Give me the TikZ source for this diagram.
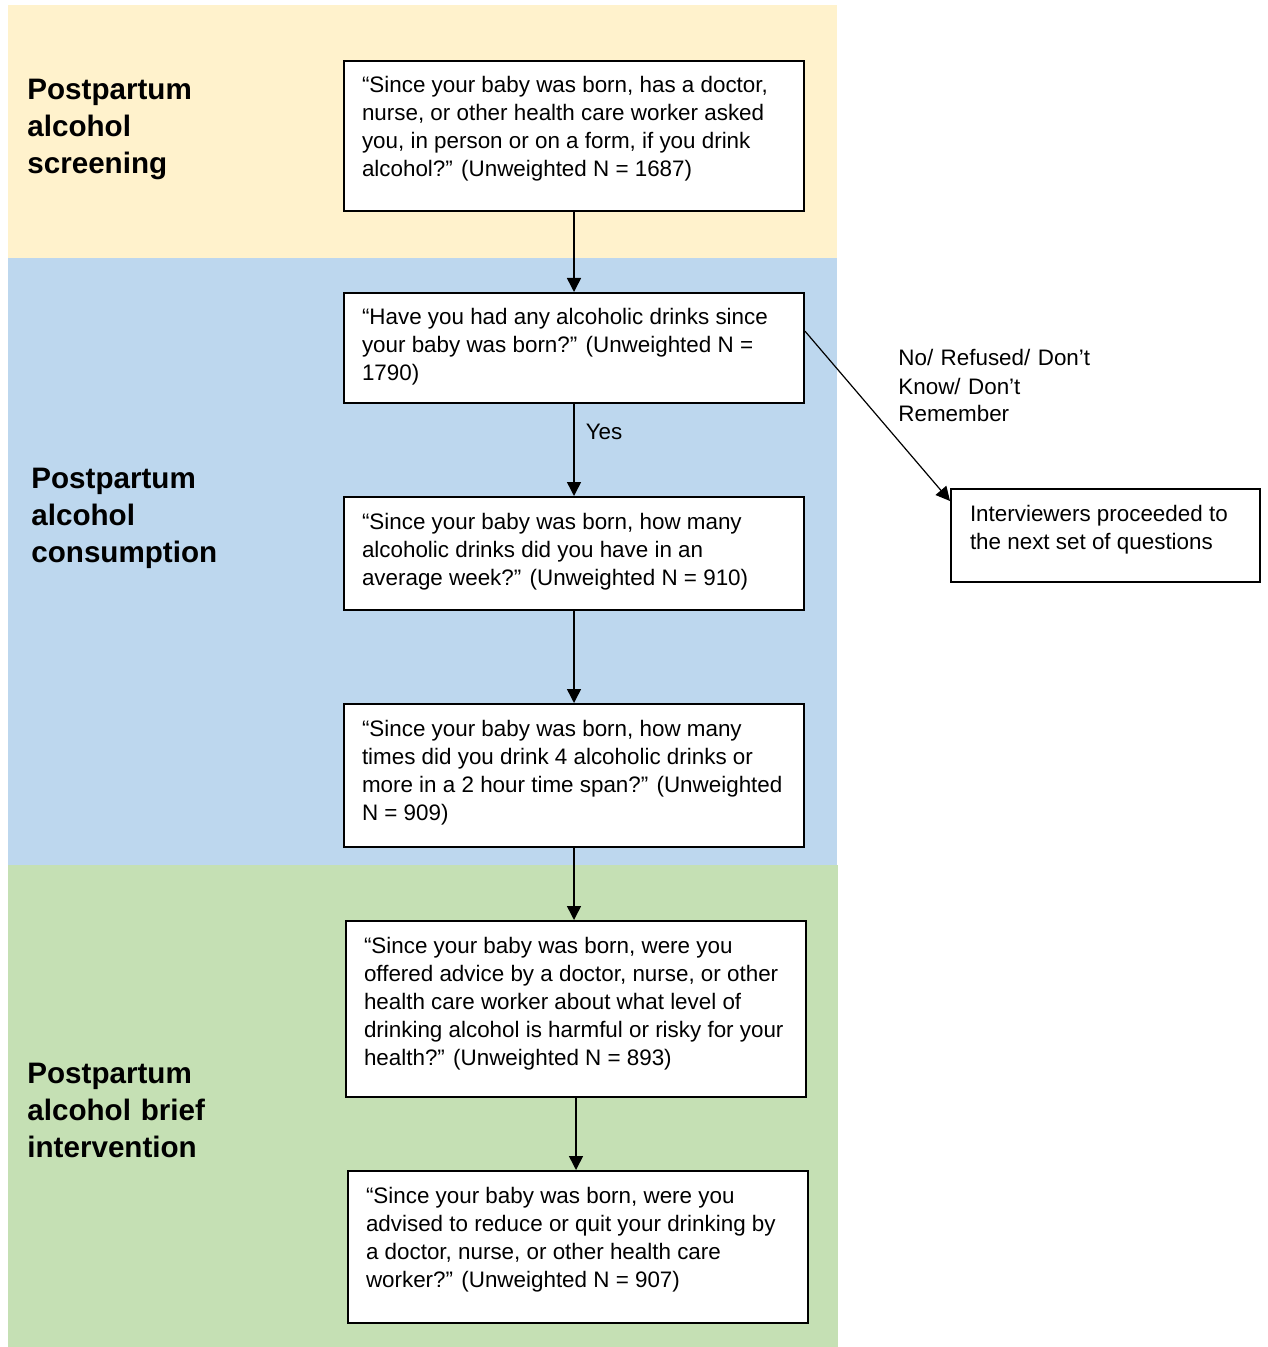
\documentclass[tikz,border=0pt]{standalone}
\usepackage{fontspec}
\setmainfont{Liberation Sans}
\usetikzlibrary{arrows.meta,positioning,calc}

\definecolor{bandyellow}{RGB}{255,242,204}
\definecolor{bandblue}{RGB}{189,215,238}
\definecolor{bandgreen}{RGB}{197,224,180}

% question text, top aligned in a box of fixed height
\newcommand{\qtext}[3][212pt]{\parbox[t][#2][t]{#1}{\raggedright\strut #3}}

\begin{document}
\begin{tikzpicture}[
  x=0.5pt, y=-0.5pt,
  every node/.style={font=\fontsize{11.2}{14}\selectfont},
  qbox/.style={draw, line width=1pt, fill=white,
               inner xsep=9pt, inner ysep=6.2pt},
  seclbl/.style={font=\bfseries\fontsize{14.8}{18.5}\selectfont,
                 text width=110pt, align=left, inner sep=0pt, anchor=base west},
  lbl/.style={text width=100pt, align=left, inner sep=0pt, anchor=base west},
  arr/.style={-{Triangle[length=7pt,width=7pt]}, line width=0.75pt},
]
\useasboundingbox (0,0) rectangle (1267,1347);

%% ---- bands ----
\fill[bandyellow] (8,5)   rectangle (837,258);
\fill[bandblue]   (8,258) rectangle (837,865);
\fill[bandgreen]  (8,865) rectangle (838,1347);

%% ---- band titles ----
\node[seclbl] (lscreen)  at (27,100)  {Postpartum\\alcohol\\screening};
\node[seclbl] (lconsume) at (31,488)  {Postpartum\\alcohol\\consumption};
\node[seclbl] (lbrief)   at (27,1083) {Postpartum\\alcohol brief\\intervention};

%% ---- screening ----
\node[qbox] (q1) at (574,136)
  {\qtext{62.6pt}{“Since your baby was born, has a doctor,\\
   nurse, or other health care worker asked\\
   you, in person or on a form, if you drink\\
   alcohol?” (Unweighted N = 1687)}};

%% ---- consumption ----
\node[qbox, below=40pt of q1] (q2)
  {\qtext{42.6pt}{“Have you had any alcoholic drinks since\\
   your baby was born?” (Unweighted N =\\
   1790)}};

\node[qbox, below=46pt of q2] (q3)
  {\qtext{44.1pt}{“Since your baby was born, how many\\
   alcoholic drinks did you have in an\\
   average week?” (Unweighted N = 910)}};

\node[qbox, below=46pt of q3] (q4)
  {\qtext{59.1pt}{“Since your baby was born, how many\\
   times did you drink 4 alcoholic drinks or\\
   more in a 2 hour time span?” (Unweighted\\
   N = 909)}};

%% ---- brief intervention ----
\node[qbox, below=36pt of q4, xshift=1pt] (q5)
  {\qtext{75.6pt}{“Since your baby was born, were you\\
   offered advice by a doctor, nurse, or other\\
   health care worker about what level of\\
   drinking alcohol is harmful or risky for your\\
   health?” (Unweighted N = 893)}};

\node[qbox, below=36pt of q5, xshift=1pt] (q6)
  {\qtext{63.6pt}{“Since your baby was born, were you\\
   advised to reduce or quit your drinking by\\
   a doctor, nurse, or other health care\\
   worker?” (Unweighted N = 907)}};

%% ---- skip box (right margin) ----
\node[qbox, inner xsep=9.5pt] (next) at (1105.5,535.5)
  {\qtext[135.5pt]{34.1pt}{Interviewers proceeded to\\
   the next set of questions}};

\node[lbl] (nolbl) at (898,366) {No/ Refused/ Don’t\\Know/ Don’t\\Remember};

%% ---- arrows ----
\draw[arr] (q1) -- (q2);
\draw[arr] (q2) -- node[pos=0.3, right=5.5pt, inner sep=0pt] (yes) {Yes} (q3);
\draw[arr] (q3) -- (q4);
\draw[arr] (q4.south) -- (q4.south |- q5.north);
\draw[arr] (q5.south) -- (q5.south |- q6.north);

\coordinate (nofrom) at ($(q2.north east)!0.35!(q2.south east)$);
\coordinate (noto)   at ($(next.north west)+(0,13)$);
\draw[arr, line width=0.6pt] (nofrom) -- (noto);
\end{tikzpicture}
\end{document}
